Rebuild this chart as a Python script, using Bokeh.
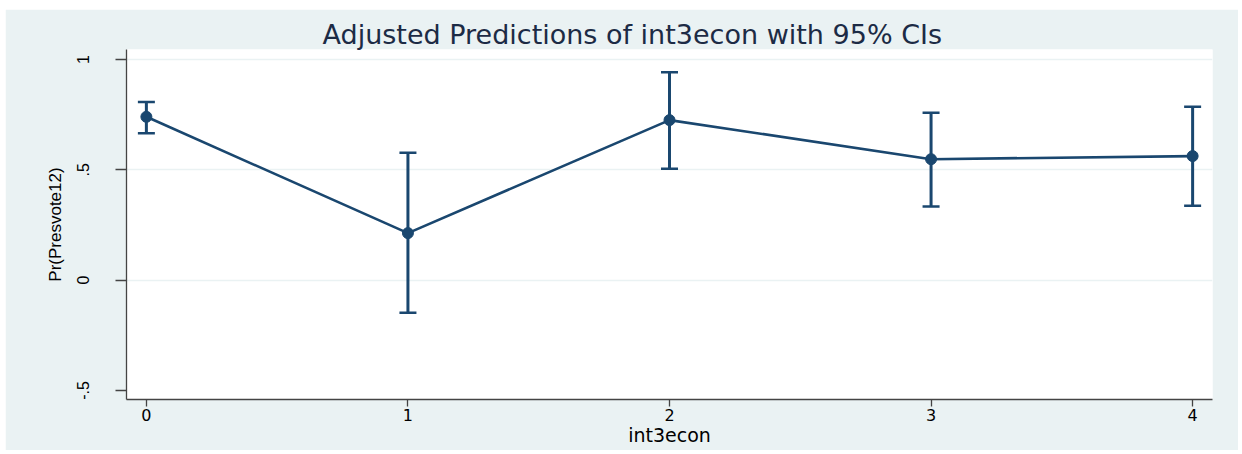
from bokeh.plotting import figure
from bokeh.models import ColumnDataSource, Whisker, TeeHead, FixedTicker, Range1d, Spacer
from bokeh.layouts import row, column
from bokeh.embed import file_html
from bokeh.resources import INLINE

# ---- data ----
int3econ = [0, 1, 2, 3, 4]
pred = [0.740, 0.213, 0.725, 0.548, 0.562]
ci_lower = [0.665, -0.148, 0.505, 0.333, 0.337]
ci_upper = [0.807, 0.577, 0.942, 0.758, 0.786]

x_ticks = [0, 1, 2, 3, 4]
y_ticks = [-0.5, 0, 0.5, 1]
y_tick_labels = ["-.5", "0", ".5", "1"]
grid_ticks = [0, 0.5, 1]

title_text = "Adjusted Predictions of int3econ with 95% CIs"
x_label = "int3econ"
y_label = "Pr(Presvote12)"

BG = "#EAF2F3"
NAVY = "#1A476F"

src = ColumnDataSource(dict(x=int3econ, y=pred, lower=ci_lower, upper=ci_upper))

p = figure(width=1233, height=441, output_backend="svg", toolbar_location=None,
           x_range=Range1d(-0.076, 4.076), y_range=Range1d(-0.541, 1.045),
           min_border_left=121, min_border_right=26, min_border_top=40, min_border_bottom=51)
p.border_fill_color = BG
p.background_fill_color = "white"
p.outline_line_color = None

# title
p.title.text = title_text
p.title.align = "left"
p.title.offset = 196
p.title.standoff = 0
p.title.text_font = "DejaVu Sans"
p.title.text_font_size = "27px"
p.title.text_font_style = "normal"
p.title.text_color = "#1C2B45"

# axes
p.xaxis.ticker = FixedTicker(ticks=x_ticks)
p.yaxis.ticker = FixedTicker(ticks=y_ticks)
p.yaxis.major_label_overrides = {t: s for t, s in zip(y_ticks, y_tick_labels)}
p.yaxis.major_label_orientation = "vertical"

for ax in (p.xaxis, p.yaxis):
    ax.axis_line_color = "#444444"
    ax.axis_line_width = 1.3
    ax.major_tick_line_color = "#444444"
    ax.major_tick_line_width = 1.3
    ax.minor_tick_line_color = None
    ax.major_tick_in = 0
    ax.major_label_text_color = "black"
    ax.axis_label_text_color = "black"
    ax.axis_label_text_font_style = "normal"

p.xaxis.major_tick_out = 7
p.xaxis.major_label_standoff = 2
p.xaxis.major_label_text_font = "DejaVu Sans"
p.xaxis.major_label_text_font_size = "16px"
p.xaxis.axis_label = x_label
p.xaxis.axis_label_text_font = "DejaVu Sans"
p.xaxis.axis_label_text_font_size = "19px"
p.xaxis.axis_label_standoff = 0

p.yaxis.major_tick_out = 11
p.yaxis.major_label_standoff = 26
p.yaxis.major_label_text_font = "Liberation Sans"
p.yaxis.major_label_text_font_size = "16px"
p.yaxis.axis_label = y_label
p.yaxis.axis_label_text_font = "Liberation Sans"
p.yaxis.axis_label_text_font_size = "17px"
p.yaxis.axis_label_standoff = 10

p.xgrid.visible = False
p.ygrid.ticker = FixedTicker(ticks=grid_ticks)
p.ygrid.grid_line_color = BG
p.ygrid.grid_line_width = 1.5

# data
p.line("x", "y", source=src, line_color=NAVY, line_width=2.6)
p.add_layout(Whisker(base="x", lower="lower", upper="upper", source=src,
                     line_color=NAVY, line_width=3,
                     upper_head=TeeHead(size=17, line_color=NAVY, line_width=2.5),
                     lower_head=TeeHead(size=17, line_color=NAVY, line_width=2.5)))
p.scatter("x", "y", source=src, size=11, fill_color=NAVY, line_color=NAVY)

layout = row(Spacer(width=5), column(Spacer(height=9), p))

open("out.html", "w").write(file_html(layout, INLINE))
